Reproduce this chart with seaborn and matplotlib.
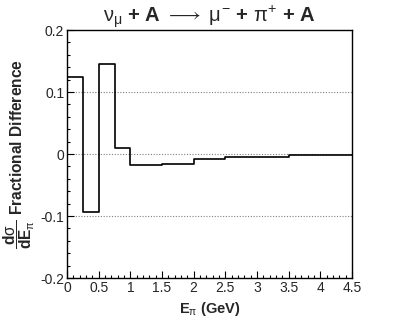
import numpy as np
import matplotlib
matplotlib.use("Agg")
import matplotlib.pyplot as plt
from matplotlib.ticker import MultipleLocator
import seaborn as sns

# bin edges (GeV) and the fractional difference in each bin
bin_edges = [0, 0.25, 0.5, 0.75, 1.0, 1.5, 2.0, 2.5, 3.5, 4.5]
frac_diff = [0.124, -0.0935, 0.1446, 0.0102, -0.0183, -0.016, -0.0083, -0.0052, -0.0015]
y_ticks = [-0.2, -0.1, 0, 0.1, 0.2]
y_tick_labels = ["-0.2", "-0.1", "0", "0.1", "0.2"]

sns.set_style("white")
plt.rcParams["font.family"] = ["Liberation Sans", "DejaVu Sans"]
plt.rcParams["mathtext.fontset"] = "custom"
plt.rcParams["mathtext.rm"] = "Liberation Sans"
plt.rcParams["mathtext.it"] = "Liberation Sans"
plt.rcParams["mathtext.bf"] = "Liberation Sans:bold"
plt.rcParams["axes.unicode_minus"] = False

centers = [(a + b) / 2 for a, b in zip(bin_edges[:-1], bin_edges[1:])]

fig = plt.figure(figsize=(4.07, 3.28), dpi=100)
ax = fig.add_axes([0.1646, 0.1524, 0.7004, 0.7561])

# dotted reference lines
for yv in [0.1, 0, -0.1]:
    ax.axhline(yv, color="gray", ls=(0, (1, 1.5)), lw=0.8, zorder=0)

sns.histplot(x=centers, weights=frac_diff, bins=bin_edges, element="step",
             fill=False, color="black", linewidth=1.2, ax=ax)

ax.set_xlim(0, 4.5)
ax.set_ylim(-0.2, 0.2)
ax.set_yticks(y_ticks)
ax.set_yticklabels(y_tick_labels)
ax.set_xticks(np.arange(0, 4.51, 0.5))
ax.set_xticklabels(["0", "0.5", "1", "1.5", "2", "2.5", "3", "3.5", "4", "4.5"])
ax.xaxis.set_minor_locator(MultipleLocator(0.1))
ax.yaxis.set_minor_locator(MultipleLocator(0.02))
ax.tick_params(which="both", direction="in", bottom=True, left=True,
               top=False, right=False, labelsize=10, color="black")
ax.tick_params(which="major", length=5, width=0.8, pad=2)
ax.tick_params(which="minor", length=2.5, width=0.8)
for s in ax.spines.values():
    s.set_color("black")
    s.set_linewidth(1.0)

ax.set_xlabel(r"E$_{\pi}$ (GeV)", fontsize=10.5, fontweight="bold", labelpad=4)
ax.set_ylabel(r"$\dfrac{\mathbf{d}\sigma}{\mathbf{dE}_{\pi}}$ Fractional Difference",
              fontsize=11.2, fontweight="bold", labelpad=2)
ax.set_title(r"$\nu_{\mu}$ + A $\longrightarrow$ $\mu^{-}$ + $\pi^{+}$ + A",
             fontsize=14.5, fontweight="bold", pad=5)

fig.savefig("out.png", dpi=100)
